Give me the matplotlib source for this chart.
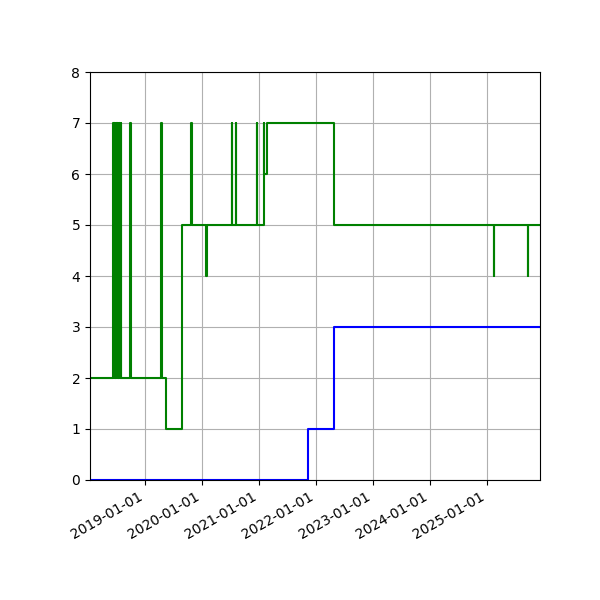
import numpy as np
import pandas as pd
import matplotlib
matplotlib.use("Agg")
from matplotlib import pyplot as plt
import matplotlib.dates as mdates

# green series: change points (date, value), drawn as steps-post
green_dates = ["2018-01-12", "2018-06-08", "2018-06-12", "2018-06-18", "2018-06-22",
               "2018-06-27", "2018-07-01", "2018-07-07", "2018-07-11", "2018-07-17",
               "2018-07-21", "2018-07-27", "2018-07-31", "2018-09-28", "2018-10-03",
               "2019-04-15", "2019-04-19", "2019-05-15", "2019-08-24", "2019-10-22",
               "2019-10-26", "2020-01-25", "2020-01-29", "2020-07-09", "2020-07-13",
               "2020-08-02", "2020-08-06", "2020-12-15", "2020-12-19", "2021-01-30",
               "2021-02-03", "2021-02-17", "2022-04-23", "2025-02-12", "2025-02-16",
               "2025-09-17", "2025-09-21", "2025-12-05"]
green_vals = [2, 7, 2, 7, 2,
              7, 2, 7, 2, 7,
              2, 7, 2, 7, 2,
              7, 2, 1, 5, 7,
              5, 4, 5, 7, 5,
              7, 5, 7, 5, 7,
              6, 7, 5, 4, 5,
              4, 5, 5]

blue_dates = ["2018-01-12", "2021-11-08", "2022-04-23", "2025-12-05"]
blue_vals = [0, 1, 3, 3]

fig, ax = plt.subplots(figsize=(6, 6), dpi=100)
ax.plot(pd.to_datetime(blue_dates), blue_vals, color="blue", drawstyle="steps-post")
ax.plot(pd.to_datetime(green_dates), green_vals, color="green", drawstyle="steps-post")
ax.set_ylim(0, 8)
ax.set_xlim(pd.Timestamp("2018-01-12"), pd.Timestamp("2025-12-05"))
ax.xaxis.set_major_locator(mdates.YearLocator())
ax.xaxis.set_major_formatter(mdates.DateFormatter("%Y-%m-%d"))
ax.grid(True)
fig.autofmt_xdate()
fig.subplots_adjust(left=0.15, right=0.9, top=0.88, bottom=0.2)
fig.savefig("out.png")
